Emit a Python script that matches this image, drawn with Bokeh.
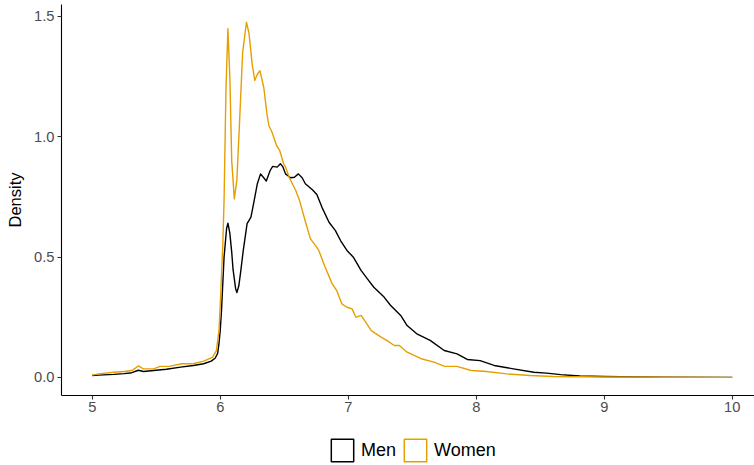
from bokeh.plotting import figure
from bokeh.layouts import column
from bokeh.models import Range1d, FixedTicker, Legend, LegendItem
from bokeh.embed import file_html
from bokeh.resources import INLINE

# ---- data (density estimates) ----
men_x = [5.00, 5.05, 5.17, 5.25, 5.31, 5.36, 5.40, 5.48, 5.58, 5.69, 5.79, 5.87,
         5.93, 5.96, 5.98, 5.99, 6.00, 6.01, 6.03, 6.05, 6.06, 6.075, 6.09, 6.10,
         6.12, 6.13, 6.145, 6.16, 6.18, 6.21, 6.24, 6.26, 6.29, 6.315, 6.34, 6.36,
         6.39, 6.41, 6.445, 6.47, 6.49, 6.51, 6.55, 6.58, 6.61, 6.64, 6.665, 6.72,
         6.755, 6.795, 6.85, 6.90, 6.94, 6.99, 7.04, 7.10, 7.15, 7.20, 7.28, 7.33,
         7.41, 7.46, 7.54, 7.64, 7.75, 7.85, 7.93, 8.03, 8.14, 8.29, 8.45, 8.55,
         8.66, 8.81, 9.00, 9.25, 9.50, 10.00]
men_y = [0.008, 0.010, 0.013, 0.016, 0.020, 0.030, 0.025, 0.029, 0.034, 0.043, 0.050, 0.057,
         0.068, 0.080, 0.100, 0.140, 0.195, 0.278, 0.500, 0.620, 0.641, 0.600, 0.520, 0.450,
         0.370, 0.353, 0.380, 0.440, 0.528, 0.639, 0.666, 0.720, 0.805, 0.846, 0.830, 0.816,
         0.860, 0.877, 0.874, 0.888, 0.875, 0.846, 0.830, 0.832, 0.846, 0.830, 0.805, 0.780,
         0.760, 0.707, 0.645, 0.610, 0.569, 0.528, 0.500, 0.445, 0.410, 0.375, 0.334, 0.300,
         0.258, 0.216, 0.180, 0.154, 0.112, 0.098, 0.075, 0.070, 0.050, 0.036, 0.022, 0.018,
         0.012, 0.006, 0.004, 0.002, 0.001, 0.0005]

women_x = [5.00, 5.05, 5.17, 5.25, 5.31, 5.34, 5.36, 5.38, 5.40, 5.48, 5.53, 5.61,
           5.70, 5.79, 5.87, 5.94, 5.97, 5.99, 6.00, 6.02, 6.03, 6.045, 6.06, 6.075,
           6.09, 6.11, 6.13, 6.15, 6.175, 6.205, 6.225, 6.25, 6.27, 6.29, 6.31, 6.34,
           6.365, 6.38, 6.405, 6.44, 6.465, 6.495, 6.51, 6.54, 6.59, 6.62, 6.67, 6.705,
           6.745, 6.77, 6.82, 6.875, 6.91, 6.95, 6.99, 7.03, 7.06, 7.10, 7.13, 7.18,
           7.26, 7.30, 7.36, 7.40, 7.46, 7.57, 7.67, 7.75, 7.85, 7.96, 8.06, 8.24,
           8.42, 8.60, 9.00, 9.50, 10.00]
women_y = [0.010, 0.015, 0.022, 0.025, 0.029, 0.040, 0.048, 0.042, 0.036, 0.036, 0.046, 0.047,
           0.057, 0.057, 0.068, 0.084, 0.112, 0.195, 0.300, 0.550, 0.735, 1.200, 1.449, 1.250,
           0.900, 0.742, 0.820, 1.050, 1.350, 1.476, 1.430, 1.300, 1.234, 1.260, 1.275, 1.206,
           1.095, 1.047, 1.019, 0.964, 0.943, 0.888, 0.875, 0.830, 0.777, 0.735, 0.639, 0.576,
           0.548, 0.528, 0.458, 0.389, 0.361, 0.306, 0.292, 0.285, 0.250, 0.258, 0.235, 0.195,
           0.167, 0.154, 0.133, 0.133, 0.105, 0.078, 0.064, 0.047, 0.046, 0.029, 0.026, 0.015,
           0.008, 0.004, 0.002, 0.001, 0.0005]

groups = ["Men", "Women"]
colors = ["#000000", "#E69F00"]
x_ticks = [5, 6, 7, 8, 9, 10]
y_ticks = [0.0, 0.5, 1.0, 1.5]
y_tick_labels = ["0.0", "0.5", "1.0", "1.5"]

FONT = "Liberation Sans"
NAN = float("nan")

p = figure(width=754, height=418, output_backend="svg", toolbar_location=None,
           x_range=Range1d(4.76, 10.174), y_range=Range1d(-0.0748, 1.5497),
           min_border_left=61, min_border_right=0, min_border_top=4, min_border_bottom=23)
p.outline_line_color = None
p.xgrid.visible = False
p.ygrid.visible = False
p.background_fill_color = "white"
p.border_fill_color = "white"

series = [(men_x, men_y), (women_x, women_y)]
for (xs, ys), c in zip(series, colors):
    p.line(xs, ys, line_color=c, line_width=1.4, line_join="round")

for ax in (p.xaxis[0], p.yaxis[0]):
    ax.axis_line_color = "black"
    ax.axis_line_width = 1.1
    ax.major_tick_line_color = "#333333"
    ax.major_tick_line_width = 1.1
    ax.major_tick_in = 0
    ax.major_tick_out = 4
    ax.minor_tick_line_color = None
    ax.major_label_text_font = FONT
    ax.major_label_text_font_size = "14.7px"
    ax.major_label_text_color = "#4D4D4D"
    ax.axis_label_text_font = FONT
    ax.axis_label_text_font_style = "normal"
    ax.axis_label_text_color = "black"
    ax.axis_label_text_font_size = "16.5px"

p.xaxis[0].ticker = FixedTicker(ticks=x_ticks)
p.xaxis[0].major_label_standoff = 2
p.yaxis[0].ticker = FixedTicker(ticks=y_ticks)
p.yaxis[0].major_label_overrides = {t: l for t, l in zip(y_ticks, y_tick_labels)}
p.yaxis[0].major_label_standoff = 3
p.yaxis[0].axis_label = "Density"
p.yaxis[0].axis_label_standoff = 7

# legend strip below the plot, with outlined box keys like ggplot's
lg = figure(width=754, height=47, output_backend="svg", toolbar_location=None,
            x_range=Range1d(0, 1), y_range=Range1d(0, 1),
            x_axis_location=None, y_axis_location=None,
            min_border_left=0, min_border_right=0, min_border_top=0, min_border_bottom=0)
lg.outline_line_color = None
lg.xgrid.visible = False
lg.ygrid.visible = False
lg.background_fill_color = "white"
lg.border_fill_color = "white"

items = []
for g, c in zip(groups, colors):
    # key-only glyph: NaN coordinates, so only the legend swatch is drawn
    r = lg.quad(left=[NAN], right=[NAN], top=[NAN], bottom=[NAN], fill_color="white",
                line_color=c, line_width=1.5)
    items.append(LegendItem(label=g, renderers=[r]))

legend = Legend(items=items, orientation="horizontal", location=(267, 1),
                glyph_width=28, glyph_height=28, label_standoff=5, spacing=5,
                padding=0, margin=0, border_line_color=None, background_fill_alpha=0,
                label_text_font=FONT, label_text_font_size="18px", label_text_color="black")
lg.add_layout(legend, "center")

open("out.html", "w").write(file_html(column(p, lg, spacing=0), INLINE))
